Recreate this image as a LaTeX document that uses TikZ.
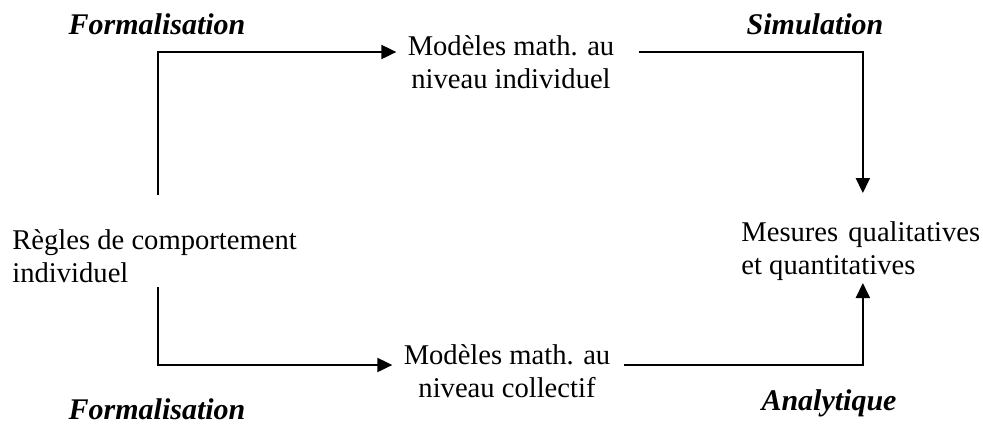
\documentclass[tikz,border=0pt]{standalone}
\usepackage{fontspec}
\setmainfont{Liberation Serif}
\usetikzlibrary{arrows.meta}
\begin{document}
\begin{tikzpicture}[
  x=0.5pt, y=-0.5pt,
  every node/.style={inner sep=0pt, font=\fontsize{14.3}{16.5}\selectfont},
  box/.style={align=center, inner sep=5.5pt},
  tag/.style={font=\fontsize{15}{17}\selectfont\bfseries\itshape},
  flow/.style={draw, line width=1pt, -{Triangle[length=7.5pt,width=7pt]}}
]
\useasboundingbox (0,0) rectangle (983,425);
\node[align=left, anchor=west] (regles) at (12,256) {R\`egles de comportement\\individuel};
\node[box] (indiv) at (511,62) {Mod\`eles math. au\\niveau individuel};
\node[box] (coll) at (507,371) {Mod\`eles math. au\\niveau collectif};
\node[align=left, anchor=west] (mesures) at (741,251) {Mesures\hspace{1.5pt} qualitatives\\et quantitatives};
\node[tag] (form1) at (157,24) {Formalisation};
\node[tag] (simu) at (815,24) {Simulation};
\node[tag] (form2) at (157,409) {Formalisation};
\node[tag] (analy) at (829,403) {Analytique};
\draw[flow] ([xshift=1.5pt,yshift=30.5pt]regles.center) |- ([yshift=5pt]indiv.west);
\draw[flow] ([xshift=6.5pt,yshift=5pt]indiv.east) -| ([xshift=1pt,yshift=29pt]mesures.center);
\draw[flow] ([xshift=1.5pt,yshift=-15.5pt]regles.center) |- ([yshift=3pt]coll.west);
\draw[flow] ([xshift=1pt,yshift=3pt]coll.east) -| ([xshift=1pt,yshift=-16pt]mesures.center);
\end{tikzpicture}
\end{document}
